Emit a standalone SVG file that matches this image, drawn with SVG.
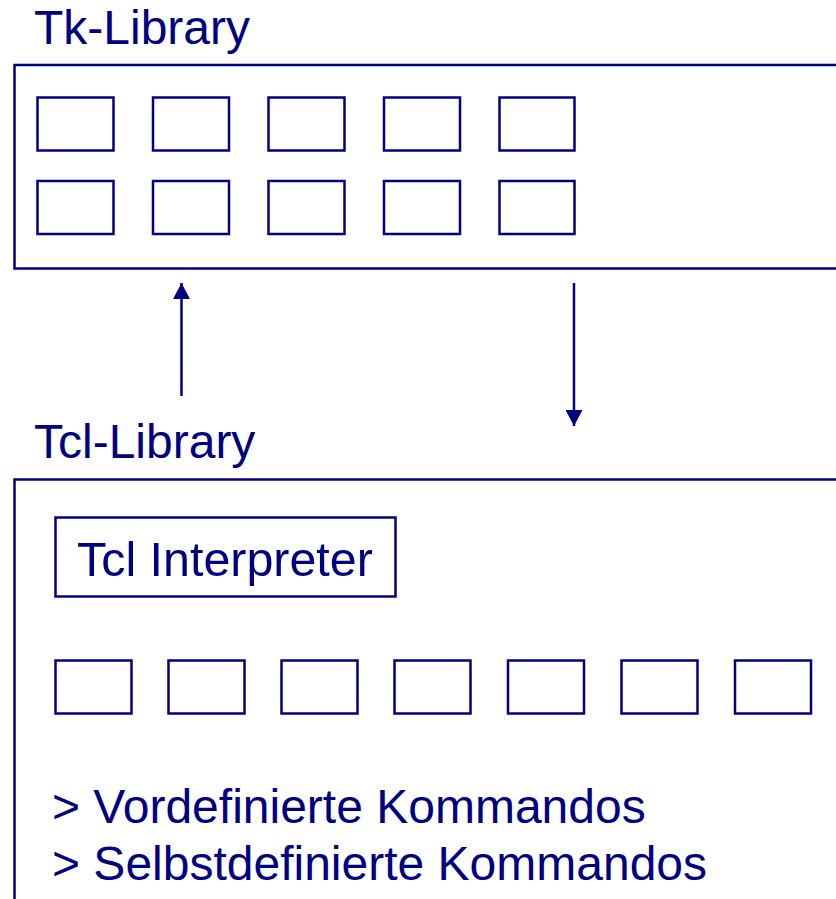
<svg xmlns="http://www.w3.org/2000/svg" width="836" height="899" viewBox="0 0 836 899">
<defs>
<style>
.lbl{font-family:"Liberation Sans",Arial,sans-serif;font-size:48px;fill:#000080}
.frame{fill:none;stroke:#000080;stroke-width:2.5}
.cell{fill:none;stroke:#000080;stroke-width:2.5}
.conn{stroke:#000080;stroke-width:2.5;fill:none}
</style>
<marker id="ah" markerWidth="17" markerHeight="17" viewBox="0 0 17 17" refX="16" refY="8.5" orient="auto" markerUnits="userSpaceOnUse">
<path d="M0,0 L16,8.5 L0,17 Z" fill="#000080"/>
</marker>
</defs>
<rect width="836" height="899" fill="#fff"/>
<g id="tk-library">
<text class="lbl" x="34" y="44">Tk-Library</text>
<rect class="frame" x="14.5" y="65" width="840" height="203.5"/>
<rect class="cell" x="37.5" y="97.5" width="76" height="53"/>
<rect class="cell" x="153" y="97.5" width="76" height="53"/>
<rect class="cell" x="268.5" y="97.5" width="76" height="53"/>
<rect class="cell" x="384" y="97.5" width="76" height="53"/>
<rect class="cell" x="499.5" y="97.5" width="75" height="53"/>
<rect class="cell" x="37.5" y="181" width="76" height="53"/>
<rect class="cell" x="153" y="181" width="76" height="53"/>
<rect class="cell" x="268.5" y="181" width="76" height="53"/>
<rect class="cell" x="384" y="181" width="76" height="53"/>
<rect class="cell" x="499.5" y="181" width="75" height="53"/>
</g>
<g id="tcl-library">
<text class="lbl" x="34" y="458">Tcl-Library</text>
<rect class="frame" x="14.5" y="479.5" width="840" height="440"/>
<g id="tcl-interpreter">
<rect class="cell" x="55.5" y="517.5" width="340" height="79"/>
<text class="lbl" x="77" y="576" style="font-size:48.4px">Tcl Interpreter</text>
</g>
<rect class="cell" x="55.5" y="660.5" width="76" height="53"/>
<rect class="cell" x="168.5" y="660.5" width="76" height="53"/>
<rect class="cell" x="281.5" y="660.5" width="76" height="53"/>
<rect class="cell" x="394.5" y="660.5" width="76" height="53"/>
<rect class="cell" x="508" y="660.5" width="76" height="53"/>
<rect class="cell" x="621.5" y="660.5" width="76" height="53"/>
<rect class="cell" x="735" y="660.5" width="76" height="53"/>
<text class="lbl" x="52" y="823">&gt; Vordefinierte Kommandos</text>
<text class="lbl" x="52" y="880">&gt; Selbstdefinierte Kommandos</text>
</g>
<g id="connectors">
<line class="conn" x1="181.5" y1="396" x2="181.5" y2="283" marker-end="url(#ah)"/>
<line class="conn" x1="574" y1="283" x2="574" y2="426" marker-end="url(#ah)"/>
</g>
</svg>
